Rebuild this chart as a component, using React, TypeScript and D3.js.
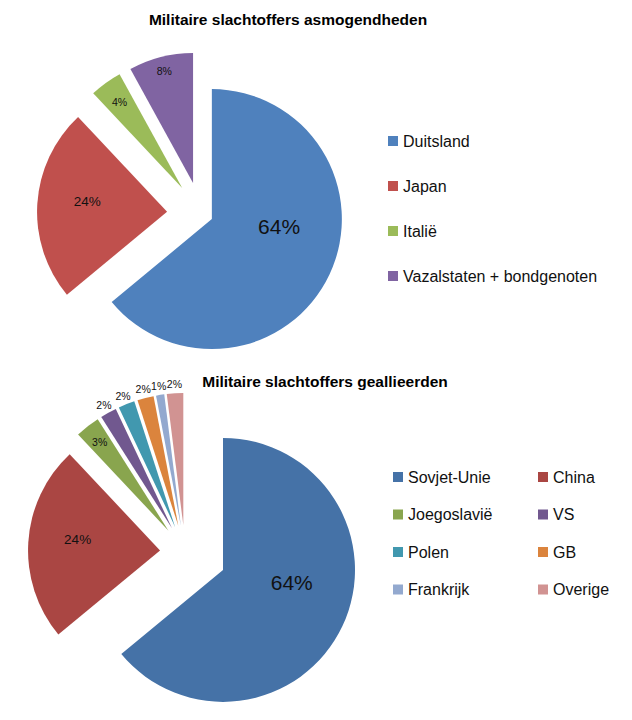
import React from 'react';
import * as d3 from 'd3';

// Axis powers
const axisCategories = ['Duitsland', 'Japan', 'Italië', 'Vazalstaten + bondgenoten'];
const axisValues = [64, 24, 4, 8];
const axisColors = ['#4F81BD', '#C0504D', '#9BBB59', '#8064A2'];

// Allies
const alliedCategories = ['Sovjet-Unie', 'China', 'Joegoslavië', 'VS', 'Polen', 'GB', 'Frankrijk', 'Overige'];
const alliedValues = [64, 24, 3, 2, 2, 2, 1, 2];
const alliedColors = ['#4572A7', '#AA4643', '#89A54E', '#71588F', '#4198AF', '#DB843D', '#93A9CF', '#D19392'];

const FONT = "'Liberation Sans', Arial, sans-serif";

type PieProps = {
  title: string,
  titleX: number,
  titleY: number,
  values: number[],
  colors: string[],
  cx: number,
  cy: number,
  r: number,
  explode: number[],
  labelR: number[],
  labelShift: number[],
  labelSize: number[],
};

const ExplodedPie: React.FC<PieProps> = (p) => {
  const pie = d3.pie<number>().sort(null).value(d => d)(p.values);
  const arc = d3.arc<d3.PieArcDatum<number>>().innerRadius(0).outerRadius(p.r);
  return (
    <g>
      <text x={p.titleX} y={p.titleY} textAnchor="middle" fontFamily={FONT}
            fontWeight="bold" fontSize={15.5} fill="#000">{p.title}</text>
      {pie.map((d, i) => {
        const mid = (d.startAngle + d.endAngle) / 2;
        const ox = p.cx + Math.sin(mid) * p.explode[i];
        const oy = p.cy - Math.cos(mid) * p.explode[i];
        const la = mid + p.labelShift[i] * Math.PI / 180;
        const lx = ox + Math.sin(la) * p.r * p.labelR[i];
        const ly = oy - Math.cos(la) * p.r * p.labelR[i];
        return (
          <g key={i} transform={`translate(${ox},${oy})`}>
            <path d={arc(d)!} fill={p.colors[i]}/>
            <text x={lx - ox} y={ly - oy} textAnchor="middle" dominantBaseline="central"
                  fontFamily={FONT} fontSize={p.labelSize[i]} fill="#111">{d.data}%</text>
          </g>
        );
      })}
    </g>
  );
};

const App: React.FC = () => {
  return (
    <svg width={632} height={720} style={{position: 'absolute', left: 0, top: 0, background: '#fff'}}>
      <ExplodedPie title="Militaire slachtoffers asmogendheden" titleX={288} titleY={25}
                   values={axisValues} colors={axisColors}
                   cx={201} cy={214} r={130}
                   explode={[12, 34, 32, 32]}
                   labelR={[0.52, 0.62, 0.82, 0.89]}
                   labelShift={[-19, 4, 0, 0]}
                   labelSize={[21, 13.5, 10.5, 10.5]}/>
      {/* legend, axis powers */}
      {axisCategories.map((c, i) => (
        <g key={c} transform={`translate(388,${141 + i * 45})`}>
          <rect x={0} y={-5} width={10} height={10} fill={axisColors[i]}/>
          <text x={15} y={5.5} fontFamily={FONT} fontSize={16} fill="#111">{c}</text>
        </g>
      ))}

      <ExplodedPie title="Militaire slachtoffers geallieerden" titleX={325} titleY={387}
                   values={alliedValues} colors={alliedColors}
                   cx={185} cy={552} r={132}
                   explode={[42, 25, 27, 27, 27, 27, 27, 27]}
                   labelR={[0.53, 0.63, 0.85, 1.07, 1.07, 1.07, 1.07, 1.07]}
                   labelShift={[-14.5, 4, 0, 0, 0, 0, 0, 0]}
                   labelSize={[21, 13.5, 10.5, 10.5, 10.5, 10.5, 10.5, 10.5]}/>
      {/* legend, allies: two columns */}
      {alliedCategories.map((c, i) => (
        <g key={c} transform={`translate(${i % 2 === 0 ? 393 : 538},${477 + Math.floor(i / 2) * 37.5})`}>
          <rect x={0} y={-5} width={10} height={10} fill={alliedColors[i]}/>
          <text x={15} y={5.5} fontFamily={FONT} fontSize={16} fill="#111">{c}</text>
        </g>
      ))}
    </svg>
  );
};

export default App;
